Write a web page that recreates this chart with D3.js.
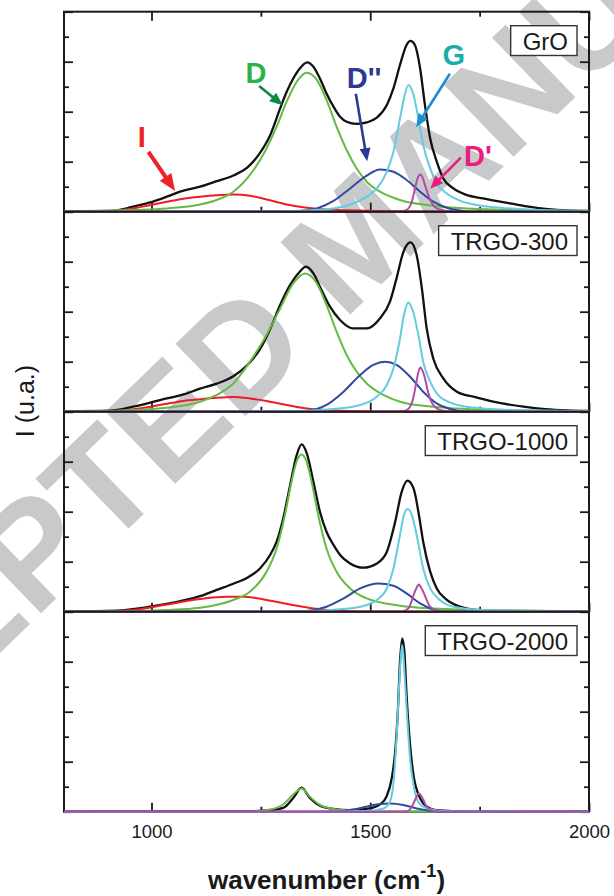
<!DOCTYPE html>
<html>
<head>
<meta charset="utf-8">
<script src="https://cdn.jsdelivr.net/npm/d3@7"></script>
<style>
  body { margin: 0; background: #fff; }
  svg { display: block; }
  text { font-family: "Liberation Sans", Arial, Helvetica, sans-serif; }
</style>
</head>
<body>
<svg id="chart" width="614" height="896"></svg>
<script>
// ---- Raman spectra: measured curve and fitted bands, [wavenumber (cm-1), intensity (a.u.)] ----
const samples = ["GrO", "TRGO-300", "TRGO-1000", "TRGO-2000"];
const bandNames = ["I", "D", "D''", "G", "D'"];

const GrO_measured = [[800,0.02],[905,0.03],[958,0.2],[997,0.37],[1035,0.6],[1065,0.8],[1111,1.0],[1149,1.22],[1187,1.45],[1218,1.75],[1248,2.35],[1271,3.05],[1294,4.13],[1309,4.8],[1324,5.33],[1339,5.73],[1356,5.97],[1370,5.8],[1385,5.33],[1400,4.73],[1416,4.2],[1431,3.8],[1446,3.6],[1469,3.51],[1492,3.57],[1515,3.76],[1538,4.27],[1553,4.93],[1568,5.87],[1583,6.67],[1592,6.83],[1602,6.67],[1614,5.73],[1625,4.27],[1637,2.93],[1652,2.0],[1667,1.33],[1690,0.93],[1720,0.67],[1758,0.53],[1797,0.4],[1830,0.3],[1862,0.2],[1907,0.1],[1950,0.05],[2000,0.03]];
const GrO_I  = [[800,0],[882,0],[920,0.05],[958,0.13],[997,0.26],[1035,0.4],[1073,0.52],[1111,0.6],[1149,0.66],[1187,0.69],[1225,0.64],[1263,0.49],[1309,0.29],[1355,0.16],[1416,0.08],[1492,0.04],[1568,0.01],[1650,0],[2000,0]];
const GrO_D  = [[800,0.02],[882,0.03],[958,0.07],[1035,0.13],[1111,0.29],[1149,0.47],[1187,0.8],[1225,1.47],[1263,2.53],[1286,3.4],[1309,4.4],[1332,5.2],[1355,5.56],[1378,5.27],[1400,4.47],[1423,3.4],[1446,2.47],[1469,1.73],[1492,1.2],[1530,0.73],[1568,0.47],[1644,0.24],[1720,0.13],[1797,0.08],[1900,0.05],[2000,0.03]];
const GrO_D2 = [[800,0],[1300,0],[1339,0.03],[1378,0.13],[1416,0.43],[1454,0.93],[1492,1.44],[1522,1.69],[1553,1.6],[1583,1.27],[1614,0.8],[1644,0.4],[1675,0.16],[1705,0.05],[1736,0],[2000,0]];
const GrO_G  = [[800,0],[1100,0],[1263,0.01],[1339,0.04],[1416,0.13],[1461,0.33],[1492,0.6],[1515,0.93],[1538,1.6],[1553,2.4],[1568,3.73],[1577,4.53],[1587,5.07],[1598,4.73],[1610,3.73],[1621,2.67],[1637,1.73],[1652,1.13],[1675,0.73],[1705,0.44],[1743,0.27],[1797,0.16],[1900,0.06],[2000,0.03]];
const GrO_D1 = [[800,0],[1550,0],[1568,0],[1583,0.07],[1595,0.4],[1606,1.2],[1610,1.42],[1615,1.49],[1620,1.35],[1625,1.07],[1637,0.47],[1652,0.13],[1675,0.03],[1705,0],[2000,0]];

const T300_measured = [[800,0.02],[905,0.04],[958,0.2],[997,0.36],[1035,0.53],[1073,0.69],[1111,0.92],[1149,1.12],[1187,1.42],[1218,1.85],[1248,2.5],[1271,3.3],[1294,4.27],[1317,5.07],[1339,5.6],[1353,5.8],[1370,5.53],[1385,5.0],[1408,4.2],[1431,3.67],[1461,3.33],[1492,3.33],[1522,3.73],[1545,4.4],[1560,5.33],[1576,6.4],[1592,6.77],[1606,6.27],[1618,4.93],[1629,3.33],[1644,2.13],[1667,1.33],[1698,0.8],[1736,0.6],[1781,0.4],[1850,0.2],[1900,0.1],[1950,0.05],[2000,0.03]];
const T300_I  = [[800,0],[882,0],[920,0.03],[958,0.1],[997,0.2],[1035,0.32],[1073,0.43],[1111,0.5],[1149,0.56],[1187,0.59],[1225,0.53],[1263,0.43],[1309,0.27],[1355,0.13],[1416,0.05],[1492,0.01],[1560,0],[2000,0]];
const T300_D  = [[800,0.02],[882,0.03],[958,0.07],[1035,0.16],[1111,0.4],[1149,0.67],[1187,1.13],[1225,2.0],[1263,3.07],[1294,4.13],[1324,5.13],[1351,5.53],[1378,5.13],[1400,4.27],[1423,3.2],[1446,2.27],[1469,1.6],[1492,1.13],[1530,0.67],[1568,0.4],[1644,0.2],[1720,0.11],[1797,0.07],[1900,0.04],[2000,0.03]];
const T300_D2 = [[800,0],[1300,0],[1355,0.03],[1400,0.27],[1439,0.8],[1477,1.47],[1507,1.87],[1534,2.0],[1560,1.87],[1591,1.4],[1621,0.8],[1652,0.33],[1682,0.11],[1720,0.01],[1760,0],[2000,0]];
const T300_G  = [[800,0],[1100,0],[1339,0.03],[1416,0.11],[1477,0.27],[1515,0.6],[1538,1.07],[1553,1.73],[1568,2.93],[1577,3.87],[1587,4.37],[1598,4.0],[1610,3.07],[1621,2.0],[1637,1.2],[1652,0.73],[1682,0.37],[1720,0.2],[1797,0.09],[1900,0.04],[2000,0.02]];
const T300_D1 = [[800,0],[1560,0],[1575,0.02],[1587,0.11],[1598,0.53],[1607,1.33],[1611,1.65],[1615,1.77],[1619,1.65],[1623,1.47],[1633,0.73],[1644,0.27],[1663,0.05],[1690,0],[2000,0]];

const T1000_measured = [[800,0.01],[920,0.04],[997,0.2],[1073,0.45],[1111,0.62],[1149,0.87],[1187,1.12],[1218,1.35],[1248,1.73],[1271,2.27],[1286,2.8],[1301,3.73],[1317,5.07],[1332,6.27],[1343,6.69],[1355,6.33],[1370,5.2],[1385,4.0],[1400,3.2],[1416,2.67],[1431,2.27],[1454,1.93],[1484,1.76],[1515,1.93],[1538,2.4],[1557,3.6],[1572,4.8],[1585,5.24],[1599,4.93],[1610,4.0],[1621,2.8],[1637,1.6],[1652,0.93],[1675,0.47],[1705,0.2],[1743,0.07],[1797,0.03],[2000,0.01]];
const T1000_I  = [[800,0],[882,0.01],[958,0.07],[1035,0.29],[1111,0.51],[1172,0.6],[1210,0.6],[1263,0.47],[1317,0.29],[1370,0.13],[1431,0.04],[1492,0],[2000,0]];
const T1000_D  = [[800,0.01],[882,0.01],[1035,0.07],[1111,0.16],[1187,0.47],[1225,0.8],[1263,1.6],[1286,2.53],[1305,3.87],[1320,5.2],[1333,6.07],[1343,6.29],[1353,6.07],[1366,5.2],[1381,3.87],[1400,2.53],[1423,1.6],[1454,0.93],[1492,0.53],[1568,0.24],[1644,0.13],[1797,0.05],[2000,0.02]];
const T1000_D2 = [[800,0],[1300,0],[1355,0.03],[1400,0.2],[1439,0.53],[1477,0.93],[1518,1.13],[1553,1.04],[1583,0.73],[1614,0.33],[1644,0.09],[1675,0],[2000,0]];
const T1000_G  = [[800,0],[1200,0],[1339,0.01],[1416,0.08],[1477,0.2],[1515,0.47],[1538,0.93],[1553,1.73],[1568,3.07],[1577,3.87],[1585,4.11],[1595,3.87],[1606,3.07],[1621,1.73],[1637,0.93],[1659,0.47],[1690,0.2],[1758,0.07],[1850,0.03],[2000,0.01]];
const T1000_D1 = [[800,0],[1570,0],[1587,0.13],[1602,0.8],[1607,1.0],[1611,1.09],[1615,1.0],[1621,0.8],[1637,0.2],[1659,0.01],[1680,0],[2000,0]];

const T2000_measured = [[800,0],[1225,0.02],[1271,0.06],[1301,0.15],[1324,0.55],[1343,0.96],[1362,0.55],[1385,0.24],[1416,0.11],[1454,0.06],[1499,0.13],[1522,0.29],[1537,0.6],[1549,1.33],[1557,2.4],[1563,4.0],[1568,6.0],[1573,6.93],[1578,6.4],[1583,4.67],[1591,2.67],[1600,1.33],[1610,0.69],[1621,0.33],[1637,0.13],[1659,0.05],[1720,0.01],[2000,0]];
const T2000_I  = [];
const T2000_D  = [[800,0],[1225,0.01],[1271,0.09],[1301,0.29],[1324,0.69],[1343,0.93],[1362,0.6],[1385,0.27],[1416,0.11],[1454,0.05],[1530,0.01],[2000,0]];
const T2000_D2 = [[800,0],[1380,0],[1416,0.01],[1469,0.11],[1515,0.29],[1545,0.33],[1576,0.27],[1606,0.13],[1637,0.04],[1670,0],[2000,0]];
const T2000_G  = [[800,0],[1400,0],[1492,0.03],[1530,0.13],[1545,0.4],[1554,1.33],[1560,2.93],[1566,5.07],[1570,6.2],[1573,6.67],[1576,6.2],[1579,5.33],[1585,3.6],[1591,2.13],[1599,1.07],[1606,0.53],[1621,0.2],[1652,0.05],[1700,0.01],[2000,0]];
const T2000_D1 = [[800,0],[1570,0],[1583,0.01],[1595,0.2],[1604,0.53],[1611,0.73],[1620,0.53],[1629,0.2],[1644,0.03],[1670,0],[2000,0]];

// axis ticks
const xMajorTicks = [1000, 1500, 2000];
const xMinorTicks = [1250, 1750];
const yMajorTicks = [0, 2, 4, 6, 8];
const yMinorTicks = [1, 3, 5, 7];

// band annotations on the GrO panel: label anchor, arrow tail, arrow tip (data units)
const annotLabelAt = [[978, 2.59], [1239, 5.15], [1486, 4.95], [1691, 5.86], [1746, 1.83]];
const annotArrowFrom = [[993, 2.39], [1246, 5.03], [1467, 4.72], [1682, 5.52], [1707, 2.16]];
const annotArrowTo = [[1054, 0.83], [1300, 4.26], [1493, 2.02], [1605, 3.39], [1637, 0.92]];

// ---- layout ----
const svg = d3.select("#chart");
const plotLeft = 64, plotRight = 589, plotTop = 11.7, panelH = 200;
const FONT = '"Liberation Sans", Arial, Helvetica, sans-serif';

const measuredBySample = [GrO_measured, T300_measured, T1000_measured, T2000_measured];
const bandsBySample = [
  [GrO_I, GrO_D, GrO_D2, GrO_G, GrO_D1],
  [T300_I, T300_D, T300_D2, T300_G, T300_D1],
  [T1000_I, T1000_D, T1000_D2, T1000_G, T1000_D1],
  [T2000_I, T2000_D, T2000_D2, T2000_G, T2000_D1]
];

const bandColors = ["#ee1d23", "#64ba42", "#2f4a9e", "#66cbe1", "#b34aa9"];
const labelColors = ["#ee2224", "#2db24a", "#2b3a92", "#19aeab", "#ec1b7f"];
const arrowColors = ["#ee2224", "#0f8a45", "#2b3a92", "#1b8ed0", "#ec1b7f"];

const x = d3.scaleLinear().domain([800, 2000]).range([plotLeft, plotRight]);
const y = d3.scaleLinear().domain([0, 8]).range([panelH, 0]);

// ---- watermark ----
(function watermark() {
  const wm = svg.append("g").attr("class", "watermark");
  const fs = 146, ang = -44;
  const rad = ang * Math.PI / 180;
  const u = [Math.cos(rad), Math.sin(rad)];
  const probe = wm.append("text").attr("font-size", fs).attr("font-weight", "bold")
    .attr("font-family", FONT).text("ACCE");
  const pre = probe.node().getComputedTextLength();
  probe.remove();
  const pStart = [34, 620];           // baseline start of the "P"
  const sx = pStart[0] - pre * u[0], sy = pStart[1] - pre * u[1];
  wm.append("text")
    .attr("transform", `translate(${sx},${sy}) rotate(${ang})`)
    .attr("font-size", fs).attr("font-weight", "bold").attr("font-family", FONT)
    .attr("fill", "#c8c9cb")
    .text("ACCEPTED MANUSCRIPT");
})();

// ---- panels ----
const line = d3.line().x(d => x(d[0])).y(d => y(d[1])).curve(d3.curveMonotoneX);

function styleAxis(g) {
  g.select(".domain").remove();
  g.attr("color", "#1a1a1a");
  g.selectAll(".tick line").attr("stroke-width", 1.8);
}

samples.forEach((name, i) => {
  const g = svg.append("g").attr("transform", `translate(0,${plotTop + i * panelH})`);

  // inward ticks on all four sides (top only on the first panel)
  g.append("g").attr("transform", `translate(0,${panelH})`)
    .call(d3.axisBottom(x).tickValues(xMajorTicks).tickSize(-9).tickPadding(13)
      .tickFormat(i === samples.length - 1 ? d3.format("d") : () => ""))
    .call(styleAxis)
    .call(a => a.selectAll("text").attr("font-size", 18.5).attr("font-family", FONT).attr("fill", "#1a1a1a"));
  g.append("g").attr("transform", `translate(0,${panelH})`)
    .call(d3.axisBottom(x).tickValues(xMinorTicks).tickSize(-5).tickFormat(() => ""))
    .call(styleAxis);
  if (i === 0) {
    g.append("g").call(d3.axisTop(x).tickValues(xMajorTicks).tickSize(-9).tickFormat(() => "")).call(styleAxis);
    g.append("g").call(d3.axisTop(x).tickValues(xMinorTicks).tickSize(-5).tickFormat(() => "")).call(styleAxis);
  }
  g.append("g").attr("transform", `translate(${plotLeft},0)`)
    .call(d3.axisLeft(y).tickValues(yMajorTicks).tickSize(-9).tickFormat(() => "")).call(styleAxis);
  g.append("g").attr("transform", `translate(${plotLeft},0)`)
    .call(d3.axisLeft(y).tickValues(yMinorTicks).tickSize(-5).tickFormat(() => "")).call(styleAxis);
  g.append("g").attr("transform", `translate(${plotRight},0)`)
    .call(d3.axisRight(y).tickValues(yMajorTicks).tickSize(-9).tickFormat(() => "")).call(styleAxis);
  g.append("g").attr("transform", `translate(${plotRight},0)`)
    .call(d3.axisRight(y).tickValues(yMinorTicks).tickSize(-5).tickFormat(() => "")).call(styleAxis);

  g.append("rect").attr("x", plotLeft).attr("y", 0).attr("width", plotRight - plotLeft).attr("height", panelH)
    .attr("fill", "none").attr("stroke", "#1a1a1a").attr("stroke-width", 2);

  // measured spectrum
  g.append("path").datum(measuredBySample[i]).attr("d", line)
    .attr("fill", "none").attr("stroke", "#111").attr("stroke-width", 2.3).attr("stroke-linejoin", "round");

  // fitted bands
  bandsBySample[i].forEach((band, k) => {
    if (!band.length) return;
    g.append("path").datum(band).attr("d", line)
      .attr("fill", "none").attr("stroke", bandColors[k]).attr("stroke-width", 2).attr("stroke-linejoin", "round");
  });

  // sample label in a box
  const box = g.append("rect");
  const lbl = g.append("text").attr("x", 568).attr("y", 38.3).attr("text-anchor", "end")
    .attr("font-size", 24).attr("fill", "#1a1a1a").text(name);
  const tw = lbl.node().getComputedTextLength();
  box.attr("x", 568 - tw - 12).attr("y", 14).attr("width", tw + 21).attr("height", 29.8)
    .attr("fill", "#fff").attr("stroke", "#333").attr("stroke-width", 1.4);

  // band annotations
  if (i === 0) {
    bandNames.forEach((b, k) => {
      const [fx, fy] = [x(annotArrowFrom[k][0]), y(annotArrowFrom[k][1])];
      const [tx, ty] = [x(annotArrowTo[k][0]), y(annotArrowTo[k][1])];
      const dx = tx - fx, dy = ty - fy, len = Math.hypot(dx, dy);
      const ux = dx / len, uy = dy / len;
      const hl = k === 0 ? 17 : 13, hw = k === 0 ? 7 : 5.5;
      const bx = tx - ux * hl, by = ty - uy * hl;
      g.append("line").attr("x1", fx).attr("y1", fy).attr("x2", bx + ux * 1).attr("y2", by + uy * 1)
        .attr("stroke", arrowColors[k]).attr("stroke-width", k === 0 ? 4 : 2.6);
      g.append("path")
        .attr("d", `M${tx},${ty}L${bx - uy * hw},${by + ux * hw}L${bx + uy * hw},${by - ux * hw}Z`)
        .attr("fill", arrowColors[k]);
      g.append("text").attr("x", x(annotLabelAt[k][0])).attr("y", y(annotLabelAt[k][1]))
        .attr("text-anchor", "middle").attr("font-size", 29).attr("font-weight", "bold")
        .attr("fill", labelColors[k]).text(b);
    });
  }
});

// ---- axis titles ----
svg.append("text").attr("transform", `translate(34,401) rotate(-90)`)
  .attr("text-anchor", "middle").attr("font-size", 25).attr("fill", "#1a1a1a").text("I (u.a.)");

const xt = svg.append("text").attr("x", (plotLeft + plotRight) / 2).attr("y", 889)
  .attr("text-anchor", "middle").attr("font-size", 26).attr("font-weight", "bold").attr("fill", "#1a1a1a");
xt.append("tspan").text("wavenumber (cm");
xt.append("tspan").attr("dy", -12).attr("font-size", 18).text("-1");
xt.append("tspan").attr("dy", 12).text(")");
</script>
</body>
</html>
